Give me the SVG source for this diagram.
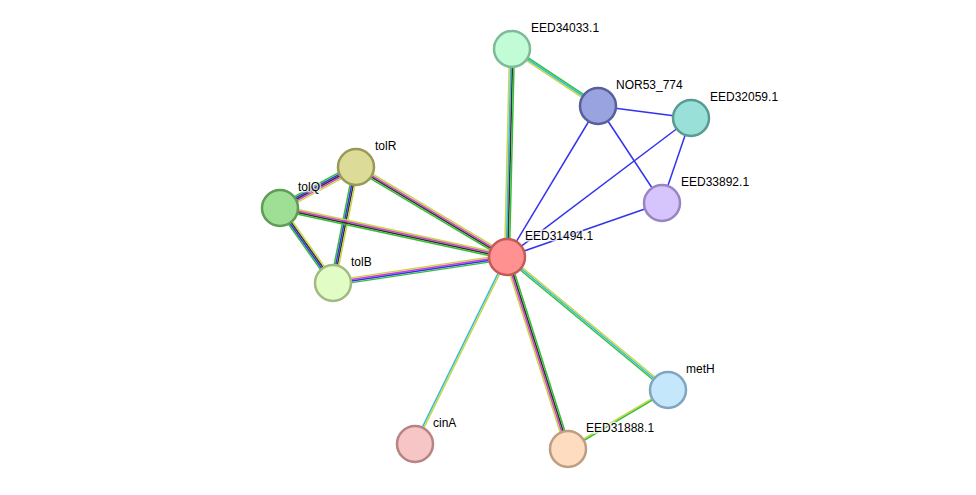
<svg xmlns="http://www.w3.org/2000/svg" width="976" height="495" viewBox="0 0 976 495">
<style>
line{stroke-width:1.5;fill:none}
.y{stroke:#c8d741}.k{stroke:#333}.c{stroke:#33bbdd}.m{stroke:#d43ed4}.g{stroke:#32c032}.b{stroke:#3333ee}
circle{stroke-width:2.5}
text{font-family:"Liberation Sans",Arial,sans-serif;font-size:12px;fill:#000;paint-order:stroke;stroke:#fff;stroke-width:3px;stroke-opacity:0.7}
</style>
<rect width="976" height="495" fill="#fff"/>
<g id="edges">
<g><line class="y" x1="507" y1="257" x2="512" y2="49" transform="translate(-2.4,0)"/><line class="c" x1="507" y1="257" x2="512" y2="49" transform="translate(-0.8,0)"/><line class="k" x1="507" y1="257" x2="512" y2="49" transform="translate(0.8,0)"/><line class="g" x1="507" y1="257" x2="512" y2="49" transform="translate(2.4,0)"/></g>
<g><line class="g" x1="512" y1="49" x2="598" y2="106" transform="translate(0.88,-1.33)"/><line class="c" x1="512" y1="49" x2="598" y2="106"/><line class="y" x1="512" y1="49" x2="598" y2="106" transform="translate(-0.88,1.33)"/></g>
<line class="b" x1="598" y1="106" x2="691" y2="118"/>
<line class="b" x1="598" y1="106" x2="662" y2="203"/>
<line class="b" x1="598" y1="106" x2="507" y2="257"/>
<line class="b" x1="691" y1="118" x2="507" y2="257"/>
<line class="b" x1="691" y1="118" x2="662" y2="203"/>
<line class="b" x1="662" y1="203" x2="507" y2="257"/>
<g><line class="g" x1="356" y1="167" x2="280" y2="208" transform="translate(-1.52,-2.82)"/><line class="b" x1="356" y1="167" x2="280" y2="208" transform="translate(-0.76,-1.41)"/><line class="k" x1="356" y1="167" x2="280" y2="208"/><line class="m" x1="356" y1="167" x2="280" y2="208" transform="translate(0.76,1.41)"/><line class="y" x1="356" y1="167" x2="280" y2="208" transform="translate(1.52,2.82)"/></g>
<g><line class="g" x1="280" y1="208" x2="333" y2="283" transform="translate(-1.96,1.38)"/><line class="b" x1="280" y1="208" x2="333" y2="283" transform="translate(-0.65,0.46)"/><line class="k" x1="280" y1="208" x2="333" y2="283" transform="translate(0.65,-0.46)"/><line class="y" x1="280" y1="208" x2="333" y2="283" transform="translate(1.96,-1.38)"/></g>
<g><line class="g" x1="356" y1="167" x2="333" y2="283" transform="translate(-2.35,-0.47)"/><line class="b" x1="356" y1="167" x2="333" y2="283" transform="translate(-0.78,-0.16)"/><line class="k" x1="356" y1="167" x2="333" y2="283" transform="translate(0.78,0.16)"/><line class="y" x1="356" y1="167" x2="333" y2="283" transform="translate(2.35,0.47)"/></g>
<g><line class="y" x1="356" y1="167" x2="507" y2="257" transform="translate(1.23,-2.06)"/><line class="m" x1="356" y1="167" x2="507" y2="257" transform="translate(0.41,-0.69)"/><line class="k" x1="356" y1="167" x2="507" y2="257" transform="translate(-0.41,0.69)"/><line class="g" x1="356" y1="167" x2="507" y2="257" transform="translate(-1.23,2.06)"/></g>
<g><line class="y" x1="280" y1="208" x2="507" y2="257" transform="translate(0.51,-2.35)"/><line class="m" x1="280" y1="208" x2="507" y2="257" transform="translate(0.17,-0.78)"/><line class="k" x1="280" y1="208" x2="507" y2="257" transform="translate(-0.17,0.78)"/><line class="g" x1="280" y1="208" x2="507" y2="257" transform="translate(-0.51,2.35)"/></g>
<g><line class="y" x1="333" y1="283" x2="507" y2="257" transform="translate(-0.36,-2.37)"/><line class="m" x1="333" y1="283" x2="507" y2="257" transform="translate(-0.12,-0.79)"/><line class="b" x1="333" y1="283" x2="507" y2="257" transform="translate(0.12,0.79)"/><line class="g" x1="333" y1="283" x2="507" y2="257" transform="translate(0.36,2.37)"/></g>
<g><line class="c" x1="507" y1="257" x2="415" y2="444" transform="translate(-0.72,-0.35)"/><line class="y" x1="507" y1="257" x2="415" y2="444" transform="translate(0.72,0.35)"/></g>
<g><line class="y" x1="507" y1="257" x2="568" y2="449" transform="translate(-2.29,0.73)"/><line class="m" x1="507" y1="257" x2="568" y2="449" transform="translate(-0.76,0.24)"/><line class="k" x1="507" y1="257" x2="568" y2="449" transform="translate(0.76,-0.24)"/><line class="g" x1="507" y1="257" x2="568" y2="449" transform="translate(2.29,-0.73)"/></g>
<g><line class="g" x1="507" y1="257" x2="668" y2="390" transform="translate(-1.02,1.23)"/><line class="c" x1="507" y1="257" x2="668" y2="390"/><line class="y" x1="507" y1="257" x2="668" y2="390" transform="translate(1.02,-1.23)"/></g>
<g><line class="y" x1="668" y1="390" x2="568" y2="449" transform="translate(-0.41,-0.69)"/><line class="g" x1="668" y1="390" x2="568" y2="449" transform="translate(0.41,0.69)"/></g>
</g>
<g id="EED31494.1"><circle cx="507" cy="257" r="18" fill="#ff9191" stroke="#c45a5a"/><text x="525" y="240">EED31494.1</text></g>
<g id="EED34033.1"><circle cx="512" cy="49" r="18" fill="#c1fcd7" stroke="#7eba97"/><text x="531" y="32">EED34033.1</text></g>
<g id="NOR53_774"><circle cx="598" cy="106" r="18" fill="#99a3e0" stroke="#56619c"/><text x="616" y="89">NOR53_774</text></g>
<g id="EED32059.1"><circle cx="691" cy="118" r="18" fill="#99e1d8" stroke="#579b93"/><text x="710" y="101">EED32059.1</text></g>
<g id="EED33892.1"><circle cx="662" cy="203" r="18" fill="#d6c4fc" stroke="#9a85c4"/><text x="681" y="186">EED33892.1</text></g>
<g id="tolR"><circle cx="356" cy="167" r="18" fill="#dcdc98" stroke="#99995a"/><text x="375" y="150">tolR</text></g>
<g id="tolQ"><circle cx="280" cy="208" r="18" fill="#9fdf95" stroke="#5e9d55"/><text x="298" y="191">tolQ</text></g>
<g id="tolB"><circle cx="333" cy="283" r="18" fill="#e1fdc5" stroke="#a0bb80"/><text x="351" y="266">tolB</text></g>
<g id="metH"><circle cx="668" cy="390" r="18" fill="#c4e7fc" stroke="#7fa5c0"/><text x="686" y="373">metH</text></g>
<g id="cinA"><circle cx="415" cy="444" r="18" fill="#f6c5c5" stroke="#b88383"/><text x="433" y="427">cinA</text></g>
<g id="EED31888.1"><circle cx="568" cy="449" r="18" fill="#fedcbf" stroke="#bf9d80"/><text x="586" y="432">EED31888.1</text></g>
</svg>
